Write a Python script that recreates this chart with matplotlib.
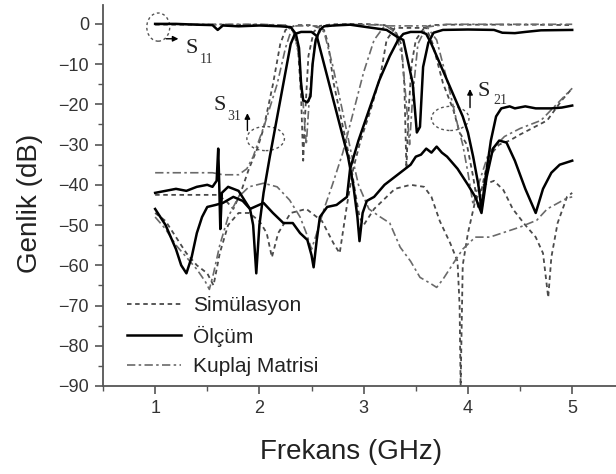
import matplotlib
matplotlib.use("Agg")
import matplotlib.pyplot as plt
from matplotlib.patches import Ellipse
from matplotlib.ticker import MultipleLocator

plt.rcParams['font.family'] = ['Liberation Sans', 'DejaVu Sans']

# --- Ölçüm (measured, solid) ---
S11_OLC_X = [1.0, 1.2, 1.4, 1.55, 1.6, 1.65, 1.8, 2.0, 2.2, 2.3, 2.35, 2.38, 2.4, 2.42, 2.46, 2.49, 2.51, 2.54,
             2.58, 2.62, 2.71, 2.87, 3.03, 3.22, 3.32, 3.38, 3.47, 3.51, 3.54, 3.57, 3.62, 3.67, 3.76, 4.0,
             4.25, 4.33, 4.45, 4.55, 4.7, 5.0]
S11_OLC_Y = [0.0, 0.0, -0.2, -0.3, -1.5, -0.4, -0.6, -0.4, -0.6, -0.8, -2.5, -6, -15, -19, -19.5, -18, -10, -4,
             -1.5, -0.6, -0.4, -0.2, -0.8, -1.5, -3.2, -4, -14.7, -27, -25.6, -10.7, -4.7, -2.2, -1.5, -1.4,
             -1.5, -2.2, -2.3, -2.0, -1.6, -1.5]

S21_OLC_X = [1.0, 1.1, 1.2, 1.3, 1.4, 1.5, 1.55, 1.59, 1.605, 1.615, 1.625, 1.64, 1.7, 1.8, 1.91, 2.04, 2.13,
             2.23, 2.32, 2.39, 2.46, 2.5, 2.52, 2.55, 2.58, 2.65, 2.74, 2.84, 2.87, 2.95, 3.05, 3.15, 3.25,
             3.33, 3.38, 3.45, 3.55, 3.6, 3.65, 3.7, 3.75, 3.8, 3.85, 3.9, 3.95, 4.0, 4.05, 4.1, 4.13, 4.17,
             4.22, 4.27, 4.32, 4.4, 4.45, 4.55, 4.65, 4.8, 4.9, 5.0]
S21_OLC_Y = [-42, -41.5, -41, -41.5, -40.5, -40, -40.5, -39, -31, -40, -51, -42, -40.5, -41.5, -46, -44.5, -47,
             -49.5, -49.5, -52, -53.7, -57.5, -60.5, -53.7, -48, -45.5, -45, -43, -36, -29, -21.5, -14, -8,
             -4, -2.5, -2, -2, -2.5, -5, -8, -11, -14, -17, -20, -23, -27, -33, -40, -46, -38,
             -29, -23, -21, -20.5, -21, -20.5, -21, -21, -20.8, -20.3]

S31_OLC_X = [1.0, 1.05, 1.1, 1.15, 1.2, 1.25, 1.3, 1.35, 1.4, 1.45, 1.5, 1.58, 1.65, 1.75, 1.84, 1.91, 1.94,
             1.97, 2.0, 2.04, 2.1, 2.15, 2.2, 2.25, 2.3, 2.34, 2.4, 2.5, 2.55, 2.6, 2.65, 2.7, 2.75, 2.8,
             2.85, 2.9, 2.94, 2.96, 2.99, 3.03, 3.1, 3.2, 3.3, 3.4, 3.45, 3.5, 3.55, 3.6, 3.65, 3.7, 3.75,
             3.8, 3.9, 4.0, 4.07, 4.13, 4.18, 4.24, 4.3, 4.37, 4.45, 4.55, 4.65, 4.72, 4.8, 4.88, 5.0]
S31_OLC_Y = [-46, -48, -50, -53, -56, -60, -62, -58, -52, -48, -45.5, -45, -44.5, -43, -44, -46, -50,
             -62, -50, -42, -33, -26, -19, -12, -5, -2.5, -2, -2, -3, -8, -13, -18, -23, -28,
             -33, -40, -48, -54, -47, -44, -43, -40, -38, -36, -35, -33, -32.5, -31, -32, -30.5, -32,
             -33, -36, -40, -43, -47, -38, -31, -29, -29.5, -34, -41, -47, -41, -37, -35, -34]

# --- Simülasyon (dashed) ---
S11_SIM_X = [1.0, 1.5, 2.0, 2.25, 2.32, 2.37, 2.4, 2.42, 2.44, 2.47, 2.52, 2.58, 2.7, 3.0, 3.2, 3.3, 3.36,
             3.39, 3.41, 3.43, 3.46, 3.5, 3.58, 3.65, 3.8, 4.2, 4.6, 5.0]
S11_SIM_Y = [-0.2, -0.2, -0.2, -0.4, -1.5, -6, -18, -34, -22, -8, -2, -0.5, -0.1, 0, -0.3, -1.5, -5,
             -15, -36, -22, -10, -4, -1, -0.3, -0.2, -0.2, -0.2, -0.3]

S21_SIM_X = [1.0, 1.1, 1.2, 1.3, 1.4, 1.5, 1.56, 1.62, 1.7, 1.8, 1.9, 2.0, 2.07, 2.12, 2.18, 2.3, 2.45,
             2.6, 2.71, 2.77, 2.84, 2.9, 2.97, 3.06, 3.16, 3.22, 3.3, 3.6, 3.66, 3.76, 3.86, 3.92, 3.99,
             4.05, 4.1, 4.14, 4.2, 4.3, 4.4, 4.5, 4.76, 4.9, 5.0]
S21_SIM_Y = [-47, -49, -53, -57, -60, -62, -65, -57, -50, -47, -47, -49, -52, -58, -52, -47, -46,
             -49, -54.5, -57, -45, -36, -29, -22, -13, -4, -1, -1, -4.8, -14.7, -21.4, -27, -30,
             -38, -46, -40, -33, -30, -29, -27.5, -24, -19, -16]

S31_SIM_X = [1.0, 1.3, 1.6, 1.68, 1.75, 1.82, 1.9, 1.98, 2.04, 2.13, 2.2, 2.25, 2.35, 2.5, 2.62, 2.66,
             2.71, 2.8, 2.87, 2.92, 2.96, 3.0, 3.1, 3.3, 3.45, 3.58, 3.65, 3.73, 3.83, 3.9, 3.92, 3.93,
             3.95, 4.0, 4.07, 4.15, 4.25, 4.34, 4.43, 4.55, 4.65, 4.72, 4.77, 4.8, 4.86, 4.95, 5.0]
S31_SIM_Y = [-42.5, -42.5, -42.5, -44, -46, -42, -36, -31, -26, -15, -5, -1.5, -0.3, -0.3, -1.5, -5,
             -14.5, -25.5, -34, -42, -48, -50, -46, -41, -40, -40.5, -43, -49, -54.5, -59, -70, -90,
             -60, -52, -44, -40, -39, -41.3, -46, -50, -53, -57, -68, -58, -49.5, -43, -42]

# --- Kuplaj Matrisi (dash-dot) ---
S11_KM_X = [1.0, 1.5, 2.0, 2.25, 2.33, 2.38, 2.42, 2.45, 2.48, 2.53, 2.6, 2.8, 3.2, 3.3, 3.37, 3.41,
            3.44, 3.47, 3.52, 3.6, 3.8, 4.3, 5.0]
S11_KM_Y = [-0.1, -0.1, -0.1, -0.3, -2, -8, -20, -30, -18, -5, -0.8, -0.1, -0.3, -2, -8, -20,
            -30, -18, -5, -0.8, -0.1, -0.1, -0.1]

S21_KM_X = [1.0, 1.1, 1.2, 1.3, 1.4, 1.48, 1.52, 1.56, 1.62, 1.7, 1.8, 1.9, 2.04, 2.17, 2.29, 2.39,
            2.45, 2.5, 2.55, 2.62, 2.7, 2.8, 2.9, 3.0, 3.1, 3.2, 3.6, 3.7, 3.8, 3.9, 3.95, 4.0, 4.05,
            4.1, 4.2, 4.35, 4.5, 4.7, 4.85, 5.0]
S21_KM_Y = [-48, -51, -55, -58, -61, -64, -66, -62, -55, -48, -43, -40.5, -39.6, -40.5, -43.8, -48,
            -52, -56, -52, -46, -40, -32, -22, -12, -4, -0.5, -0.5, -4, -14, -25, -30, -37, -45,
            -40, -32, -28, -26, -24, -20, -16]

S31_KM_X = [1.0, 1.3, 1.55, 1.65, 1.8, 1.88, 1.94, 2.05, 2.17, 2.25, 2.3, 2.35, 2.55, 2.62, 2.7, 2.8,
            2.88, 2.95, 3.05, 3.16, 3.25, 3.35, 3.45, 3.54, 3.64, 3.7, 3.76, 3.86, 3.95, 4.07, 4.21,
            4.5, 4.66, 4.76, 4.95, 5.0]
S31_KM_Y = [-37, -37, -37, -37.5, -37.5, -36, -33, -25, -15, -6, -2, -0.5, -0.5, -2, -10, -22,
            -32, -40, -46, -48, -49.5, -55.5, -59, -63, -64.5, -65.5, -63.5, -59.5, -56, -53, -53,
            -50.5, -48.8, -46, -43.3, -43]

SIM_STYLE = dict(color='#4a4a4a', lw=1.3, ls=(0, (2.5, 2)))
OLC_STYLE = dict(color='black', lw=1.8, ls='-')
KM_STYLE = dict(color='#6a6a6a', lw=1.2, ls=(0, (5, 2, 1.5, 2)))

fig = plt.figure(figsize=(6.16, 4.74), dpi=100)
ax = fig.add_axes([0.1672, 0.1857, 0.8328, 0.8038])

ax.plot(S11_SIM_X, S11_SIM_Y, **SIM_STYLE, label='Simülasyon')
ax.plot(S21_SIM_X, S21_SIM_Y, **SIM_STYLE)
ax.plot(S31_SIM_X, S31_SIM_Y, **SIM_STYLE)
ax.plot(S11_KM_X, S11_KM_Y, **KM_STYLE)
ax.plot(S21_KM_X, S21_KM_Y, **KM_STYLE)
ax.plot(S31_KM_X, S31_KM_Y, **KM_STYLE)
ax.plot(S11_OLC_X, S11_OLC_Y, **OLC_STYLE, label='Ölçüm')
ax.plot(S21_OLC_X, S21_OLC_Y, **OLC_STYLE)
ax.plot(S31_OLC_X, S31_OLC_Y, **OLC_STYLE)
ax.plot([], [], **KM_STYLE, label='Kuplaj Matrisi')

# annotations: dashed circles + arrows + S labels
ell = dict(fill=False, ls=(0, (2, 2)), lw=1.0, ec='#555555')
ax.add_patch(Ellipse((1.03, -0.8), 0.22, 7, **ell))
ax.add_patch(Ellipse((2.06, -28.5), 0.36, 6, **ell))
ax.add_patch(Ellipse((3.83, -23.5), 0.36, 6, **ell))
arr = dict(arrowstyle='-|>', color='black', lw=1.0, mutation_scale=8)
ax.annotate('', xy=(1.25, -3.7), xytext=(1.08, -3.7), arrowprops=arr)
ax.annotate('', xy=(1.885, -21.5), xytext=(1.885, -27.2), arrowprops=arr)
ax.annotate('', xy=(4.02, -15.5), xytext=(4.02, -21.5), arrowprops=arr)
serif = ['Liberation Serif', 'DejaVu Serif']
for sx, sy, sub, bx, by in [(1.29, -7.2, '11', 1.43, -9.7), (1.556, -21.4, '31', 1.69, -23.9),
                            (4.087, -17.9, '21', 4.24, -19.9)]:
    ax.text(sx, sy, 'S', family=serif, fontsize=16, color='#222222')
    ax.text(bx, by, sub, family=serif, fontsize=10, color='#333333')

ax.set_xlim(0.5, 5.42)
ax.set_ylim(-90, 4.7)
ax.xaxis.set_major_locator(MultipleLocator(1))
ax.xaxis.set_minor_locator(MultipleLocator(0.5))
ax.yaxis.set_major_locator(MultipleLocator(10))
ax.yaxis.set_minor_locator(MultipleLocator(5))
for s in ['top', 'right']:
    ax.spines[s].set_visible(False)
for s in ['left', 'bottom']:
    ax.spines[s].set_color('#555555')
    ax.spines[s].set_linewidth(1.3)
ax.tick_params(which='major', direction='out', length=6, width=1.2, color='#555555',
               labelsize=13, labelcolor='#333333', pad=4)
ax.tick_params(which='minor', direction='out', length=3.5, width=1.0, color='#555555')

ax.set_xlabel('Frekans (GHz)', fontsize=20, color='#222222')
ax.set_ylabel('Genlik (dB)', fontsize=20, color='#222222')
ax.xaxis.set_label_coords(0.483, -0.14)
ax.yaxis.set_label_coords(-0.117, 0.48)

ax.legend(loc='lower left', bbox_to_anchor=(0.018, -0.012), frameon=False, fontsize=15,
          handlelength=2.6, handletextpad=0.6, labelspacing=0.5, borderpad=0.2,
          labelcolor='#222222')

fig.savefig('out.png', dpi=100)
